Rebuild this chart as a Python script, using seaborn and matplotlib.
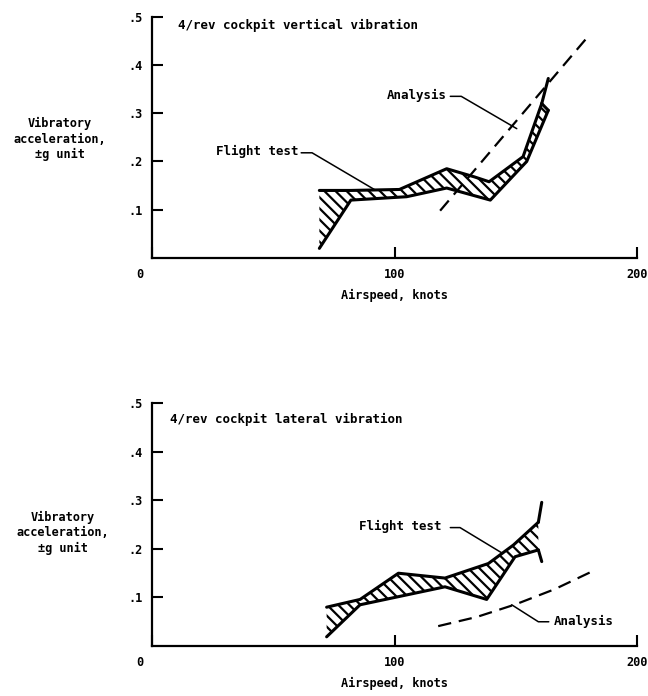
import matplotlib
matplotlib.use("Agg")
import matplotlib.pyplot as plt
import matplotlib.transforms as mtransforms
import seaborn as sns

# === Settings ===
sns.set_style("ticks", {"axes.edgecolor": "black", "text.color": "black",
                        "axes.labelcolor": "black", "xtick.color": "black",
                        "ytick.color": "black"})
plt.rcParams['font.family'] = ['DejaVu Sans Mono', 'DejaVu Sans']
plt.rcParams['font.weight'] = 'bold'
plt.rcParams['hatch.linewidth'] = 1.6
plt.rcParams['hatch.color'] = 'black'

# === Data ===
# vertical vibration panel
vert_upper_x = [69, 82, 102, 121.5, 133, 139, 153, 160.7]
vert_upper_y = [0.14, 0.14, 0.142, 0.185, 0.168, 0.158, 0.21, 0.32]
vert_lower_x = [69, 82, 105, 121.5, 139.5, 154.5, 163.4]
vert_lower_y = [0.02, 0.12, 0.127, 0.145, 0.12, 0.20, 0.306]
vert_ext_x = [160.7, 163.4]
vert_ext_y = [0.32, 0.372]
vert_analysis_x = [118.8, 180.3]
vert_analysis_y = [0.098, 0.462]

# lateral vibration panel
lat_upper_x = [72, 85.8, 101.6, 120.8, 138.7, 149, 159.3]
lat_upper_y = [0.08, 0.096, 0.15, 0.14, 0.17, 0.208, 0.255]
lat_lower_x = [72, 85.8, 120.8, 138, 149.7, 159.3]
lat_lower_y = [0.019, 0.085, 0.122, 0.096, 0.184, 0.198]
lat_ext_up_x = [159.3, 160.7]
lat_ext_up_y = [0.255, 0.296]
lat_ext_dn_x = [159.3, 160.7]
lat_ext_dn_y = [0.198, 0.174]
lat_analysis_x = [118, 134, 150, 166, 182]
lat_analysis_y = [0.041, 0.06, 0.086, 0.117, 0.155]

x_ticks = [0, 100, 200]
y_ticks = [0.1, 0.2, 0.3, 0.4, 0.5]
y_ticklabels = ['.1', '.2', '.3', '.4', '.5']

BAND_LW = 2.2
LEAD_LW = 1.1
FS = 8.6


def band(ax, ux, uy, lx, ly):
    # hatched region between the two flight-test boundaries
    px = list(ux) + list(lx)[::-1]
    py = list(uy) + list(ly)[::-1]
    ax.fill(px, py, facecolor='white', edgecolor='black', hatch='\\\\\\', linewidth=0)
    for xs, ys in [(ux, uy), (lx, ly)]:
        sns.lineplot(x=xs, y=ys, ax=ax, color='black', lw=BAND_LW, sort=False,
                     estimator=None)


def setup_axes(ax, title, title_xy, ylab_xy):
    ax.set_xlim(0, 200)
    ax.set_ylim(0, 0.5)
    sns.despine(ax=ax)
    for s in ['left', 'bottom']:
        ax.spines[s].set_linewidth(1.6)
    ax.set_xticks(x_ticks)
    ax.set_xticklabels(['0', '100', '200'])
    ax.set_yticks(y_ticks)
    ax.set_yticklabels(y_ticklabels)
    ax.tick_params(direction='in', length=8, width=1.5, labelsize=FS, pad=7)
    lab0 = ax.get_xticklabels()[0]
    lab0.set_transform(lab0.get_transform() +
                       mtransforms.ScaledTranslation(-0.12, 0, ax.figure.dpi_scale_trans))
    ax.set_xlabel('Airspeed, knots', fontsize=FS, labelpad=6, fontweight='bold')
    ax.set_ylabel('')
    ax.text(title_xy[0], title_xy[1], title, fontsize=FS + 0.4, ha='left', va='center')
    ax.text(ylab_xy[0], ylab_xy[1], 'Vibratory\nacceleration,\n\u00b1g unit', fontsize=FS,
            ha='center', va='center', linespacing=1.25, clip_on=False)


fig = plt.figure(figsize=(6.48, 6.96), dpi=100)
ax1 = fig.add_axes([0.2346, 0.6293, 0.7485, 0.3467])
ax2 = fig.add_axes([0.2346, 0.0718, 0.7485, 0.3487])

# === Top: vertical vibration ===
band(ax1, vert_upper_x, vert_upper_y, vert_lower_x, vert_lower_y)
sns.lineplot(x=vert_ext_x, y=vert_ext_y, ax=ax1, color='black', lw=BAND_LW, estimator=None)
sns.lineplot(x=[vert_upper_x[-1], vert_lower_x[-1]], y=[vert_upper_y[-1], vert_lower_y[-1]],
             ax=ax1, color='black', lw=BAND_LW, estimator=None)
ax1.plot(vert_analysis_x, vert_analysis_y, color='black', lw=1.6, dashes=(6, 3.5))
setup_axes(ax1, '4/rev cockpit vertical vibration', (10.7, 0.482), (-38, 0.246))
ax1.text(60.5, 0.22, 'Flight test', fontsize=FS + 0.4, ha='right', va='center')
ax1.plot([61.5, 66, 92], [0.218, 0.218, 0.141], color='black', lw=LEAD_LW)
ax1.text(96.8, 0.337, 'Analysis', fontsize=FS + 0.4, ha='left', va='center')
ax1.plot([123, 127.5, 150.4], [0.335, 0.335, 0.268], color='black', lw=LEAD_LW)

# === Bottom: lateral vibration ===
band(ax2, lat_upper_x, lat_upper_y, lat_lower_x, lat_lower_y)
sns.lineplot(x=lat_ext_up_x, y=lat_ext_up_y, ax=ax2, color='black', lw=BAND_LW, estimator=None)
sns.lineplot(x=lat_ext_dn_x, y=lat_ext_dn_y, ax=ax2, color='black', lw=BAND_LW, estimator=None)
ax2.plot(lat_analysis_x, lat_analysis_y, color='black', lw=1.6, dashes=(6, 3.5))
setup_axes(ax2, '4/rev cockpit lateral vibration', (7.4, 0.466), (-36.7, 0.233))
ax2.text(85.5, 0.246, 'Flight test', fontsize=FS + 0.4, ha='left', va='center')
ax2.plot([123, 127, 144.2], [0.244, 0.244, 0.192], color='black', lw=LEAD_LW)
ax2.text(165.5, 0.050, 'Analysis', fontsize=FS + 0.4, ha='left', va='center')
ax2.plot([148.3, 159.3, 163.6], [0.085, 0.050, 0.050], color='black', lw=LEAD_LW)

fig.savefig("out.png", dpi=100)
